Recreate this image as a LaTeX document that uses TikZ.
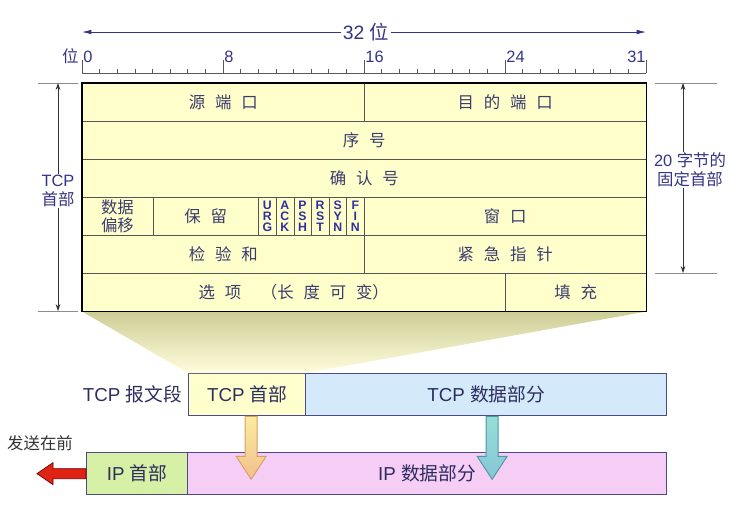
\documentclass[tikz,border=0pt]{standalone}
\usepackage{fontspec}
\setmainfont{Liberation Sans}
\newfontfamily\cjk{Noto Sans CJK SC}
\newfontfamily\flagfont{Liberation Sans}[UprightFont={* Bold}]
\usetikzlibrary{arrows.meta, positioning, calc}
\definecolor{hdrfill}{RGB}{255, 255, 204}
\definecolor{rulerblue}{RGB}{52, 52, 132}
\definecolor{cellgray}{RGB}{85, 85, 85}
\definecolor{celltext}{RGB}{60, 60, 110}
\definecolor{flagblue}{RGB}{48, 48, 160}
\definecolor{segline}{RGB}{75, 75, 140}
\definecolor{segtext}{RGB}{45, 45, 95}
\definecolor{tcphdrfill}{RGB}{255, 255, 205}
\definecolor{tcpdatafill}{RGB}{212, 234, 250}
\definecolor{iphdrfill}{RGB}{214, 240, 165}
\definecolor{ipdatafill}{RGB}{245, 205, 245}
\definecolor{shadowtop}{RGB}{205, 205, 150}
\definecolor{shadowbot}{RGB}{255, 253, 220}
\definecolor{sendred}{RGB}{225, 35, 20}
\definecolor{droporange}{RGB}{215, 160, 100}
\definecolor{dropteal}{RGB}{80, 150, 165}
\newcommand{\pxl}{0.03cm}
\newcommand{\bitw}{17.625}
\newcommand{\gap}{\hspace{0.6em}}
\tikzset{
  hcell/.style={draw=cellgray, fill=hdrfill, anchor=north west, inner sep=0pt, minimum height=38*\pxl, font=\cjk\fontsize{14}{16}\selectfont, text=celltext},
  flagcell/.style={hcell, align=center, font=\flagfont\fontsize{10.5}{9.6}\selectfont, text=flagblue},
  bitnum/.style={font=\fontsize{14}{16}\selectfont, text=rulerblue, inner sep=1pt},
  dimlabel/.style={font=\fontsize{14}{16}\selectfont, text=rulerblue, fill=white, inner sep=1pt, align=center},
  rulerline/.style={draw=black!65, line width=0.6pt},
  extline/.style={draw=black!45, line width=0.6pt},
  dimarrow/.style={{Stealth[length=6pt, width=4pt]}-{Stealth[length=6pt, width=4pt]}, black!80, line width=0.6pt},
  widtharrow/.style={-{Latex[length=8pt, width=4pt]}, rulerblue, line width=0.7pt},
  segbox/.style={draw=segline, line width=1.1pt, anchor=north west, inner sep=0pt, minimum height=42*\pxl, font=\fontsize{16}{18}\selectfont, text=segtext},
  seglabel/.style={font=\fontsize{16}{18}\selectfont, text=segtext, inner sep=2pt},
  droparrow/.style={line width=0.8pt},
}

\begin{document}
\begin{tikzpicture}[x=0.03cm, y=-0.03cm]
  \useasboundingbox (0,0) rectangle (737,518);
  % width of a row
  \node[dimlabel, font=\fontsize{16.5}{18}\selectfont] (rowwidth) at (366,32) {32 {\cjk 位}};
  \coordinate (wleft) at (82,32);
  \coordinate (wright) at (646,32);
  \draw[widtharrow] (rowwidth) -- (wleft);
  \draw[widtharrow] (rowwidth) -- (wright);
  % bit ruler
  \draw[rulerline] (82,73) -- (646,73);
  \foreach \b in {0,...,32} \draw[rulerline] (82+\b*\bitw,73) -- ++(0,-4);
  \foreach \b in {0,8,...,32} \draw[rulerline] (82+\b*\bitw,73) -- ++(0,-13);
  \foreach \b in {0,8,16,24} \node[bitnum, anchor=base west] (bit\b) at (82+\b*\bitw,62) {\b};
  \node[bitnum, anchor=base east] (bit31) at (647,62) {31};
  \node[bitnum, anchor=base east] (bitword) at (80,62) {\cjk 位};
  % header fields
  \node[hcell, minimum width=16*\bitw*\pxl] (srcport) at (82,83) {源\gap 端\gap 口};
  \node[hcell, minimum width=16*\bitw*\pxl] (dstport) at (82+16*\bitw,83) {目\gap 的\gap 端\gap 口};
  \node[hcell, minimum width=32*\bitw*\pxl] (seqnum) at (82,121) {序\gap 号};
  \node[hcell, minimum width=32*\bitw*\pxl] (acknum) at (82,159) {确\gap 认\gap 号};
  \node[hcell, minimum width=4*\bitw*\pxl, align=center, font=\cjk\fontsize{14}{15.5}\selectfont] (offset) at (82,197) {数据\\偏移};
  \node[hcell, minimum width=6*\bitw*\pxl] (resv) at (82+4*\bitw,197) {保\gap 留};
  \foreach \b/\la/\lb/\lc in {10/U/R/G, 11/A/C/K, 12/P/S/H, 13/R/S/T, 14/S/Y/N, 15/F/I/N}
    \node[flagcell, minimum width=\bitw*\pxl] (flag\b) at (82+\b*\bitw,197) {\la\\\lb\\\lc};
  \node[hcell, minimum width=16*\bitw*\pxl] (window) at (82+16*\bitw,197) {窗\gap 口};
  \node[hcell, minimum width=16*\bitw*\pxl] (checksum) at (82,235) {检\gap 验\gap 和};
  \node[hcell, minimum width=16*\bitw*\pxl] (urgptr) at (82+16*\bitw,235) {紧\gap 急\gap 指\gap 针};
  \node[hcell, minimum width=24*\bitw*\pxl] (options) at (82,273) {选\gap 项\gap\gap （长\gap 度\gap 可\gap 变）};
  \node[hcell, minimum width=8*\bitw*\pxl] (padding) at (82+24*\bitw,273) {填\gap 充};
  % segment and datagram
  \node[segbox, fill=tcphdrfill, minimum width=117*\pxl] (tcphdr) at (188,373) {TCP {\cjk 首部}};
  \node[segbox, fill=tcpdatafill, minimum width=361*\pxl] (tcpdata) at (305,373) {TCP {\cjk 数据部分}};
  \node[seglabel, left=3pt of tcphdr] (tcpseg) {TCP {\cjk 报文段}};
  \node[segbox, fill=iphdrfill, minimum width=101*\pxl] (iphdr) at (86,452) {IP {\cjk 首部}};
  \node[segbox, fill=ipdatafill, minimum width=479*\pxl] (ipdata) at (187,452) {IP {\cjk 数据部分}};
  \node[seglabel, text=black!80, font=\fontsize{14}{16}\selectfont] (sendfirst) at (40,443) {\cjk 发送在前};
  % header expands into the segment
  \shade[top color=shadowtop, bottom color=shadowbot] (options.south west) -- (padding.south east) -- (tcphdr.north east) -- (tcphdr.north west) -- cycle;
  \draw[line width=1.6pt] (srcport.north west) rectangle (padding.south east);
  % lengths
  \draw[extline] (38,83) -- (78,83);
  \draw[extline] (38,311) -- (78,311);
  \coordinate (htop) at (58,83);
  \coordinate (hbot) at (58,311);
  \draw[dimarrow] (htop) -- (hbot);
  \node[dimlabel] (hdrlen) at (58,191) {TCP\\{\cjk 首部}};
  \draw[extline] (655,83) -- (717,83);
  \draw[extline] (655,273) -- (717,273);
  \coordinate (ftop) at (683,83);
  \coordinate (fbot) at (683,273);
  \draw[dimarrow] (ftop) -- (fbot);
  \node[dimlabel, font=\fontsize{14}{16.5}\selectfont] (fixlen) at (690,170) {20 {\cjk 字节的}\\{\cjk 固定首部}};
  % send direction
  \filldraw[fill=sendred, draw=red!45!black, line width=0.6pt] ($(iphdr.west)+(0,-5)$) -- ++(-33,0) -- ++(0,-6) -- ++(-16,11) -- ++(16,11) -- ++(0,-6) -- ++(33,0) -- cycle;
  % encapsulation
  \shadedraw[droparrow, draw=droporange, top color={rgb,255:red,250;green,236;blue,160}, bottom color={rgb,255:red,242;green,192;blue,140}]
    ($(tcphdr.south)+(-2,0)$) -- ++(0,40) -- ++(-9,0) -- ++(15,23) -- ++(15,-23) -- ++(-9,0) -- ++(0,-40) -- cycle;
  \shadedraw[droparrow, draw=dropteal, top color={rgb,255:red,150;green,222;blue,215}, bottom color={rgb,255:red,135;green,198;blue,215}]
    ($(tcpdata.south)+(0,0)$) -- ++(0,40) -- ++(-9,0) -- ++(15,23) -- ++(15,-23) -- ++(-9,0) -- ++(0,-40) -- cycle;
\end{tikzpicture}
\end{document}
